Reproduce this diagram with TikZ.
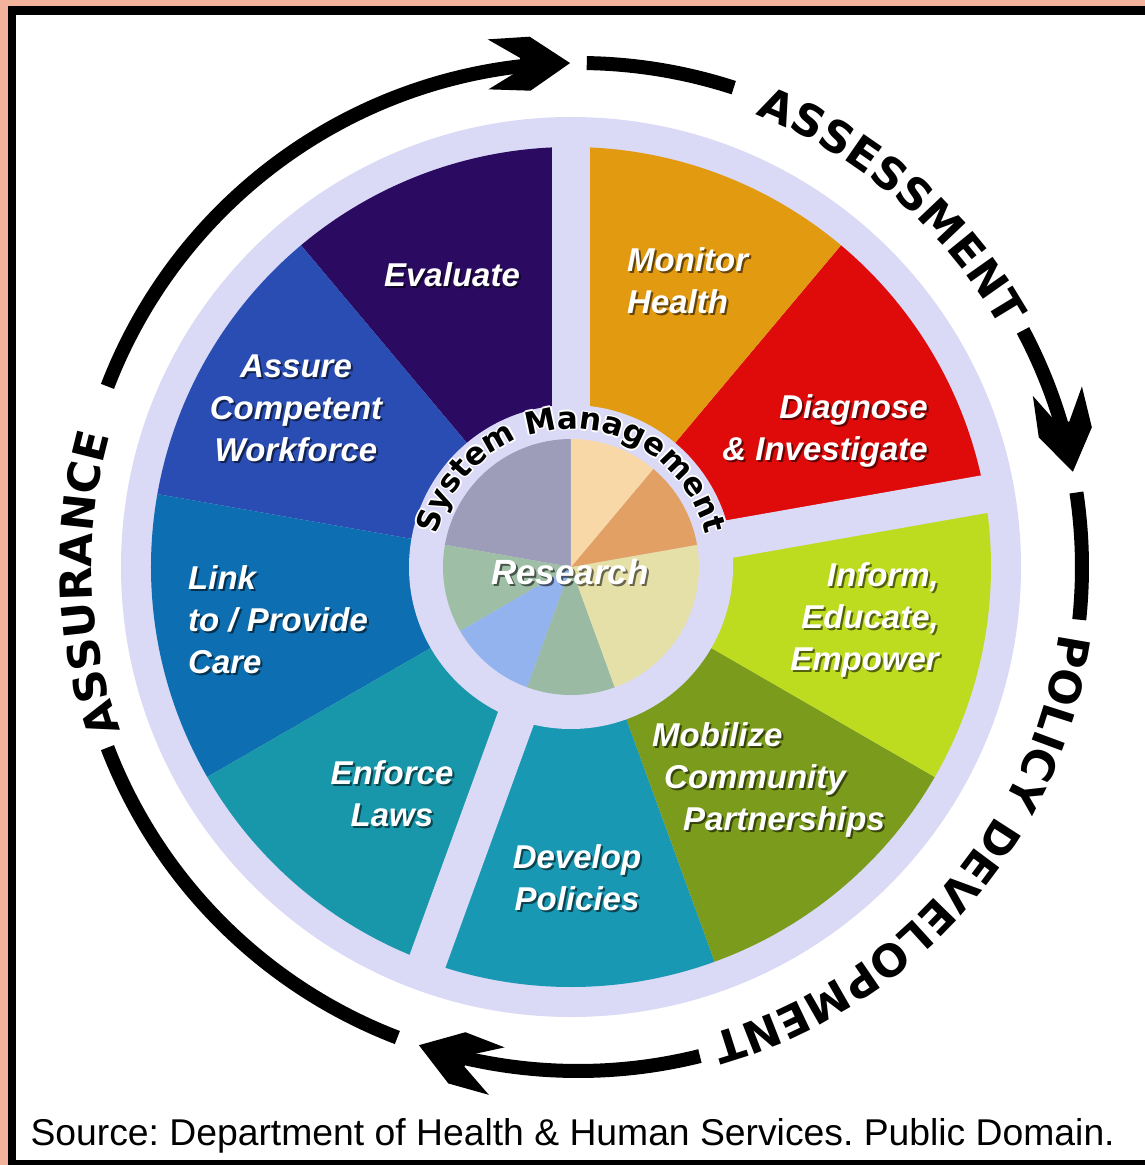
\documentclass[tikz,border=0pt]{standalone}
\usepackage{fontspec}
\setmainfont{Liberation Sans}
\newfontfamily\dejavu{DejaVu Sans}
\usetikzlibrary{decorations.text}
\frenchspacing

\definecolor{salmon}{HTML}{F2B29C}
\definecolor{lav}{HTML}{DAD9F6}
\definecolor{evalc}{HTML}{2B0B62}
\definecolor{assurec}{HTML}{2A4DB4}
\definecolor{linkc}{HTML}{0D6EB1}
\definecolor{enforcec}{HTML}{1897AA}
\definecolor{devc}{HTML}{1898B3}
\definecolor{mobc}{HTML}{7A9B1C}
\definecolor{infc}{HTML}{BDDB1F}
\definecolor{diagc}{HTML}{DF0A0A}
\definecolor{monc}{HTML}{E29A10}
\definecolor{pgrey}{HTML}{9D9CB9}
\definecolor{pgreen}{HTML}{9EBFA5}
\definecolor{pblue}{HTML}{93B3EE}
\definecolor{pgreentwo}{HTML}{9BBAA3}
\definecolor{pyel}{HTML}{E5E0A8}
\definecolor{porange}{HTML}{E2A065}
\definecolor{ppeach}{HTML}{F9D8A7}

\newcommand\segfont{\fontsize{33}{42}\selectfont\bfseries\itshape}
\newcommand\cyclefont{\dejavu\fontsize{44}{44}\selectfont\bfseries}
\newcommand\sysfont{\dejavu\fontsize{31}{31}\selectfont\bfseries}

\tikzset{
  seglabel/.style={text=white,font=\segfont,align=center,inner sep=0pt},
  cycleline/.style={line width=14pt},
  cyclehead/.pic={\fill (0,0) -- (-40,27) -- (-82,25) -- (-50,6) -- (-50,-6)
    -- (-82,-25) -- (-40,-27) -- cycle;},
}

% texte blanc avec ombre
\newcommand\shadowlabel[4][]{%
  \node[seglabel,#1,text=black,opacity=.55] at ([shift={(2,-2)}]#3) {#4};
  \node[seglabel,#1] (#2) at (#3) {#4};}

\begin{document}
\begin{tikzpicture}[x=1pt,y=1pt]
\useasboundingbox (-571,-598) rectangle (574,567);
\fill[salmon] (-571,-598) rectangle (574,567);
\fill[black] (-563,-598) rectangle (574,561);
\fill[white] (-555,-593) rectangle (574,552);

% roue
\fill[lav] (0,0) circle[radius=450];
\foreach \a/\col in {10/diagc,50/monc,90/evalc,130/assurec,170/linkc,210/enforcec,250/devc,290/mobc,330/infc}
  \fill[\col] (0,0) -- (\a:420) arc[start angle=\a,delta angle=40,radius=420] -- cycle;
\foreach \a in {10,90,250}
  \draw[lav,line width=38pt] (0,0) -- (\a:440);
\fill[lav] (0,0) circle[radius=162];
\foreach \a/\b/\col in {90/170/pgrey,170/210/pgreen,210/250/pblue,250/290/pgreentwo,290/370/pyel,370/410/porange,410/450/ppeach}
  \fill[\col] (0,0) -- (\a:128) arc[start angle=\a,end angle=\b,radius=128] -- cycle;

% System Management
\foreach \dx/\dy in {1.6/0,-1.6/0,0/1.6,0/-1.6,1.1/1.1,-1.1/-1.1,1.1/-1.1,-1.1/1.1}
  \path[shift={(\dx,\dy)},decorate,decoration={text along path,text align=center,
    text={|\sysfont\color{white}|System Management}}] (180:138) arc[start angle=180,end angle=0,radius=138];
\path[decorate,decoration={text along path,text align=center,
  text={|\sysfont|System Management}}] (180:138) arc[start angle=180,end angle=0,radius=138];

% etiquettes
\shadowlabel{eval}{-119,292}{Evaluate}
\shadowlabel[anchor=west,align=left]{mon}{56,286}{Monitor\\Health}
\shadowlabel[anchor=east,align=right]{diag}{357,136}{Diagnose\\\& Investigate}
\shadowlabel[anchor=east,align=right]{inf}{368,-53}{Inform,\\Educate,\\Empower}
\shadowlabel[anchor=west,align=left]{mob}{81,-213}{Mobilize\\\hspace*{12pt}Community\\\hspace*{31pt}Partnerships}
\shadowlabel{dev}{6,-311}{Develop\\Policies}
\shadowlabel{enf}{-179,-227}{Enforce\\Laws}
\shadowlabel[anchor=west,align=left]{link}{-383,-53}{Link\\to / Provide\\Care}
\shadowlabel{assure}{-275,159}{Assure\\Competent\\Workforce}
\shadowlabel[font=\fontsize{35}{35}\selectfont\bfseries\itshape]{res}{-1,-5}{Research}

% cycle
\begin{scope}[shift={(7,0)}]
\draw[cycleline] (159:504) arc[start angle=159,end angle=96,radius=504];
\pic[rotate=0.9] at (90.9:504) {cyclehead};
\draw[cycleline] (89:504) arc[start angle=89,end angle=72,radius=504];
\draw[cycleline] (28:504) arc[start angle=28,end angle=16,radius=504];
\pic[rotate=-79.1] at (10.9:504) {cyclehead};
\draw[cycleline] (8.5:504) arc[start angle=8.5,end angle=-6,radius=504];
\draw[cycleline] (-76:504) arc[start angle=-76,end angle=-103.4,radius=504];
\pic[rotate=161.6] at (-108.4:504) {cyclehead};
\draw[cycleline] (249:504) arc[start angle=249,end angle=201,radius=504];

\path[decorate,decoration={text along path,text align=center,text={|\cyclefont|ASSESSMENT}}]
  (94:486) arc[start angle=94,end angle=4,radius=486];
\path[decorate,decoration={text along path,text align=center,text={|\cyclefont|POLICY DEVELOPMENT}}]
  (9:486) arc[start angle=9,end angle=-91,radius=486];
\path[decorate,decoration={text along path,text align=center,text={|\cyclefont|ASSURANCE}}]
  (232:486) arc[start angle=232,end angle=132,radius=486];
\end{scope}

\node[anchor=base west,font=\fontsize{37.3}{37.3}\selectfont] (src) at (-544,-578)
  {Source: Department of Health \& Human Services. Public Domain.};
\end{tikzpicture}
\end{document}
